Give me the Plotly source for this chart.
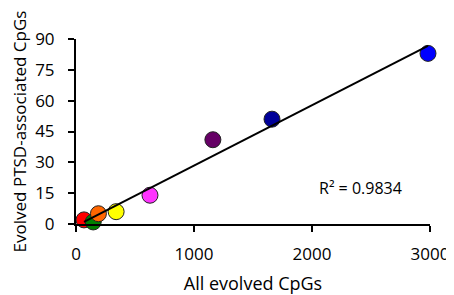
import numpy as np
import plotly.graph_objects as go

all_cpgs = [68, 146, 190, 340, 627, 1160, 1661, 2983]
ptsd_cpgs = [2, 1, 5, 6, 14, 41, 51, 83]
colors = ["#FF0000", "#008000", "#FF6600", "#FFFF00", "#FF33FF", "#660066", "#000099", "#0000FF"]
x_ticks = [0, 1000, 2000, 3000]
y_ticks = [0, 15, 30, 45, 60, 75, 90]
r2_label = "R² = 0.9834"

slope, intercept = np.polyfit(all_cpgs, ptsd_cpgs, 1)
xl = [min(all_cpgs), max(all_cpgs)]
yl = [slope * v + intercept for v in xl]

fig = go.Figure()
fig.add_trace(go.Scatter(
    x=all_cpgs, y=ptsd_cpgs, mode="markers",
    marker=dict(size=16, color=colors, line=dict(color="#222222", width=1)),
    cliponaxis=False, showlegend=False))
fig.add_trace(go.Scatter(
    x=xl, y=yl, mode="lines", line=dict(color="black", width=2),
    cliponaxis=False, showlegend=False))

font = "Open Sans, Liberation Sans, sans-serif"
fig.update_layout(
    width=446, height=287,
    margin=dict(l=68, r=24, t=31, b=71),
    paper_bgcolor="white", plot_bgcolor="white",
    font=dict(family=font, color="black"),
    xaxis=dict(range=[0, 3000], tickvals=x_ticks, showgrid=False, zeroline=False,
               automargin=False,
               showline=True, linecolor="black", linewidth=2,
               ticks="outside", ticklen=6, tickwidth=2, tickcolor="black",
               ticklabelstandoff=8,
               tickfont=dict(size=17), title=dict(text="All evolved CpGs", font=dict(size=18), standoff=18)),
    yaxis=dict(range=[0, 90], tickvals=y_ticks, showgrid=False, zeroline=False,
               automargin=False,
               showline=True, linecolor="black", linewidth=2,
               ticks="outside", ticklen=6, tickwidth=2, tickcolor="black",
               ticklabelstandoff=10,
               tickfont=dict(size=17), title=dict(text="Evolved PTSD-associated CpGs", font=dict(size=17), standoff=11)),
    annotations=[dict(x=0.805, y=0.195, xref="paper", yref="paper", text=r2_label,
                      xanchor="center", yanchor="middle",
                      showarrow=False, font=dict(size=16, family=font))],
)
fig.write_html("out.html")
